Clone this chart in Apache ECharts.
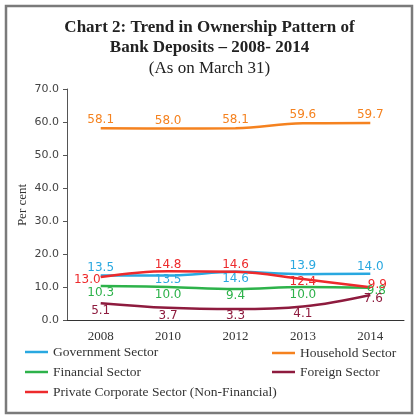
<!DOCTYPE html>
<html><head><meta charset="utf-8">
<script src="https://cdn.jsdelivr.net/npm/echarts@6/dist/echarts.min.js"></script>
<style>html,body{margin:0;padding:0;background:#fff}#c{width:419px;height:418px}</style>
</head><body><div id="c"></div>
<script>
const categories = ['2008','2010','2012','2013','2014'];
const yTicks = [0,10,20,30,40,50,60,70];
const yAxisName = 'Per cent';
const government = [13.5,13.5,14.6,13.9,14.0];
const household = [58.1,58.0,58.1,59.6,59.7];
const financial = [10.3,10.0,9.4,10.0,9.8];
const foreign = [5.1,3.7,3.3,4.1,7.6];
const privateCorp = [13.0,14.8,14.6,12.4,9.9];

// label placement (style only)
const lab = {
  gov: [['top',2],['bottom',0,[0,-2]],['bottom',1],['top',2],['top',1]],
  hh: [['top',2],['top',2],['top',2],['top',2],['top',2]],
  fin: [['bottom',1],['bottom',2],['bottom',1],['bottom',2],['inside',0,[6,3]]],
  fgn: [['bottom',2],['bottom',2],['bottom',1],['bottom',1],['bottom',1,[3,-3]]],
  pc: [['left',0,[0,3]],['top',0],['top',1],['inside',0,[0,3]],['top',1,[7,5]]]
};
function build(vals, cfg){
  return vals.map((v,i)=>{
    const c = cfg[i];
    const l = {position:c[0], distance:c[1]};
    if (c[2]) l.offset = c[2];
    return {value:v, label:l};
  });
}
const sansF = '"DejaVu Sans", sans-serif';
const serifF = '"Liberation Serif", serif';
function ser(name, vals, cfg, color){
  return {
    name, type:'line', data: build(vals,cfg), smooth:0.4,
    symbol:'circle', symbolSize:0.1, itemStyle:{color},
    lineStyle:{color, width:2.5},
    label:{show:true, color, fontFamily:sansF, fontSize:12, formatter:p=>p.value.toFixed(1)},
    emphasis:{disabled:true}, animation:false
  };
}
const chart = echarts.init(document.getElementById('c'));
const legText = {fontFamily:serifF, fontSize:13.5, color:'#333', lineHeight:14};
function leg(name, left, top){
  return {data:[name], left, top, icon:'rect', itemWidth:23, itemHeight:2.5, itemGap:5,
    textStyle:legText, selectedMode:false, padding:0};
}
chart.setOption({
  animation:false,
  title:[
    {text:'Chart 2: Trend in Ownership Pattern of\nBank Deposits – 2008- 2014', left:'center', top:13,
     textStyle:{fontFamily:serifF, fontWeight:'bold', fontSize:17, color:'#222', lineHeight:20}},
    {text:'(As on March 31)', left:'center', top:55,
     textStyle:{fontFamily:serifF, fontWeight:'normal', fontSize:17, color:'#222'}}
  ],
  graphic:[
    {type:'rect', shape:{x:6,y:6,width:406,height:407}, style:{fill:null, stroke:'#7a7a7a', lineWidth:2.5}, silent:true},
    {type:'text', x:23, y:205, rotation:Math.PI/2, silent:true,
     style:{text:yAxisName, align:'center', verticalAlign:'middle', fontFamily:serifF, fontSize:13, fill:'#333'}}
  ],
  legend:[
    leg('Government Sector',25,345),
    leg('Financial Sector',25,365),
    leg('Private Corporate Sector (Non-Financial)',25,385),
    leg('Household Sector',272,346),
    leg('Foreign Sector',272,365)
  ],
  grid:{left:67, right:15, top:89, bottom:98},
  xAxis:{type:'category', data:categories, boundaryGap:true,
    axisLine:{lineStyle:{color:'#333', width:1}},
    axisTick:{inside:true, length:4, lineStyle:{color:'#333'}},
    axisLabel:{fontFamily:serifF, fontSize:13, color:'#333', margin:10}},
  yAxis:{type:'value', min:yTicks[0], max:yTicks[yTicks.length-1], interval:10,
    axisLine:{show:true, lineStyle:{color:'#555'}},
    axisTick:{show:true, length:4, lineStyle:{color:'#555'}},
    splitLine:{show:false},
    axisLabel:{fontFamily:sansF, fontSize:11, color:'#444', formatter:v=>v.toFixed(1), margin:8}},
  series:[
    ser('Government Sector', government, lab.gov, '#29a8e0'),
    ser('Household Sector', household, lab.hh, '#f5821f'),
    ser('Financial Sector', financial, lab.fin, '#2db24a'),
    ser('Foreign Sector', foreign, lab.fgn, '#8e1b3e'),
    ser('Private Corporate Sector (Non-Financial)', privateCorp, lab.pc, '#ed2a2c')
  ]
});
</script></body></html>
